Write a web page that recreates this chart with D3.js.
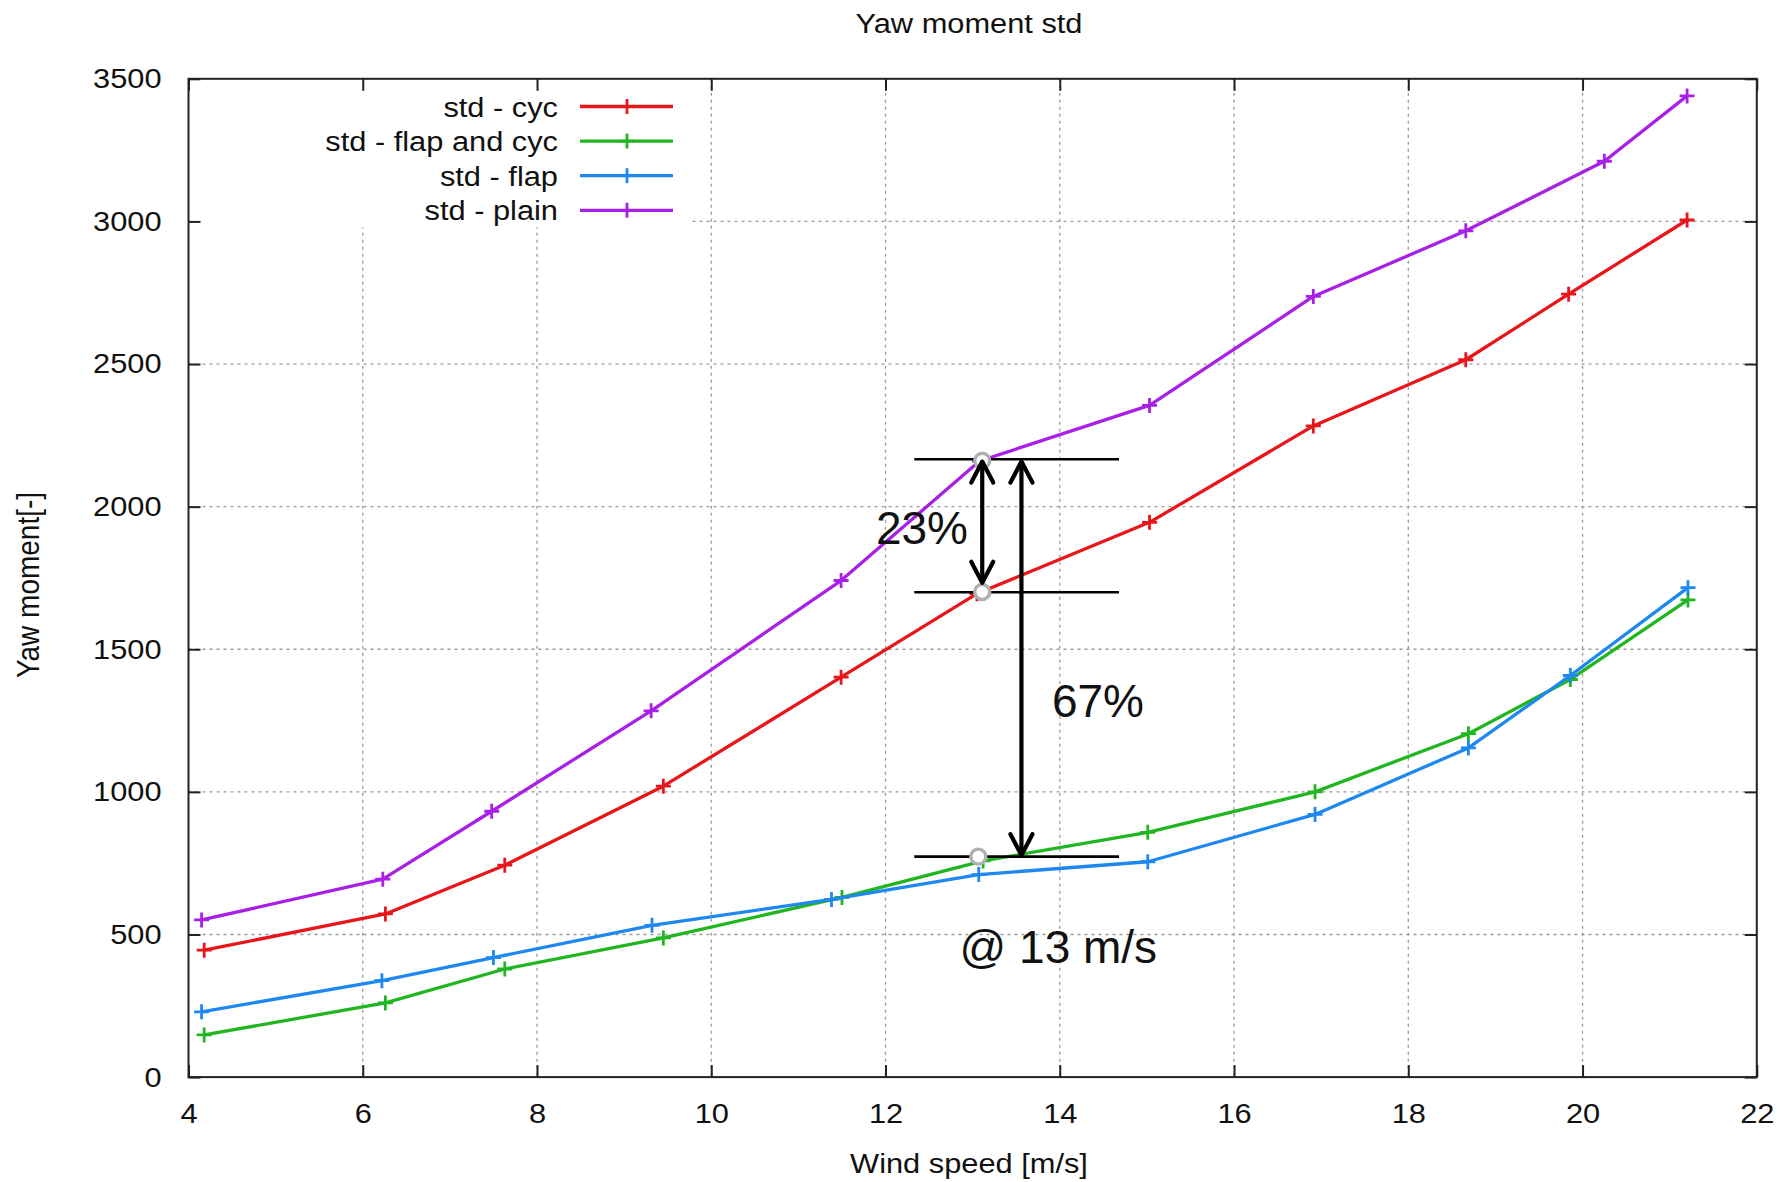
<!DOCTYPE html>
<html>
<head>
<meta charset="utf-8">
<script src="https://cdn.jsdelivr.net/npm/d3@7"></script>
<style>
  body { margin: 0; background: #fff; }
  svg { display: block; }
  text { font-family: "Liberation Sans", Arial, Helvetica, sans-serif; fill: #111; }
</style>
</head>
<body>
<svg id="chart" width="1791" height="1182"></svg>
<script>
// ---- data: yaw moment standard deviation vs wind speed ----
const seriesNames = ["std - cyc", "std - flap and cyc", "std - flap", "std - plain"];
const seriesColors = ["#e8161a", "#22b522", "#1e88f0", "#a820e8"];

const windCyc      = [4.18, 6.26, 7.63, 9.45, 11.49, 13.05, 15.03, 16.91, 18.66, 19.84, 21.20];
const momentCyc    = [445, 572, 743, 1020, 1402, 1695, 1945, 2283, 2515, 2745, 3005];

const windFlapCyc   = [4.18, 6.26, 7.63, 9.45, 11.50, 13.12, 15.01, 16.93, 18.69, 19.86, 21.21];
const momentFlapCyc = [148, 260, 379, 488, 630, 758, 858, 1000, 1204, 1394, 1673];

const windFlap   = [4.15, 6.22, 7.50, 9.32, 11.38, 13.07, 15.01, 16.93, 18.69, 19.86, 21.21];
const momentFlap = [229, 338, 419, 532, 623, 710, 755, 921, 1154, 1408, 1716];

const windPlain   = [4.15, 6.23, 7.48, 9.31, 11.49, 13.08, 15.03, 16.91, 18.66, 20.25, 21.20];
const momentPlain = [551, 694, 932, 1284, 1741, 2160, 2355, 2737, 2967, 3211, 3440];

const xTicks = [4, 6, 8, 10, 12, 14, 16, 18, 20, 22];
const yTicks = [0, 500, 1000, 1500, 2000, 2500, 3000, 3500];

// reduction annotation at 13 m/s
const gapLevels = [2166, 1700, 773];            // horizontal reference levels
const gapSpan = [12.33, 14.68];                 // wind-speed extent of reference lines
const gapArrows = [[13.11, 2158, 1733], [13.56, 2158, 778]];   // [wind, from, to]
const gapPoints = [[13.11, 2161], [13.11, 1701], [13.065, 773]];
const gapTexts = ["23%", "67%", "@ 13 m/s"];
const gapTextPos = [[11.89, 1869], [13.91, 1263], [12.85, 400]];

// ---- layout ----
const svg = d3.select("#chart");
const plot = { left: 188.5, right: 1756.8, top: 78.8, bottom: 1077.1 };
const x = d3.scaleLinear().domain([4, 22]).range([plot.left, plot.right]);
const y = d3.scaleLinear().domain([0, 3500]).range([plot.bottom, plot.top]);
const stretch = "scale(1.1,1)";

// dotted grid
const grid = svg.append("g").attr("stroke", "#9a9a9a").attr("stroke-width", 1.3)
  .attr("stroke-dasharray", "3,4");
grid.selectAll("line.v").data(xTicks.slice(1, -1)).join("line").attr("class", "v")
  .attr("x1", d => x(d)).attr("x2", d => x(d)).attr("y1", plot.top).attr("y2", plot.bottom);
grid.selectAll("line.h").data(yTicks.slice(1, -1)).join("line").attr("class", "h")
  .attr("x1", plot.left).attr("x2", plot.right).attr("y1", d => y(d)).attr("y2", d => y(d));

// opaque key background
svg.append("rect").attr("x", plot.left + 2).attr("y", plot.top + 1.5)
  .attr("width", 690 - plot.left - 2).attr("height", 147)
  .attr("fill", "#fff");

// axes with inward ticks on all four sides
function styleAxis(g) {
  g.selectAll(".domain").remove();
  g.selectAll(".tick line").attr("stroke", "#222").attr("stroke-width", 2);
  g.selectAll(".tick text").attr("font-size", 28).attr("fill", "#111")
    .attr("font-family", "Liberation Sans, Arial, sans-serif");
}
const gx = svg.append("g").attr("transform", `translate(0,${plot.bottom})`)
  .call(d3.axisBottom(x).tickValues(xTicks).tickFormat(d3.format("d"))
    .tickSizeInner(-12).tickSizeOuter(0).tickPadding(26))
  .call(styleAxis);
gx.selectAll(".tick text").attr("transform", stretch);
const gy = svg.append("g").attr("transform", `translate(${plot.left},0)`)
  .call(d3.axisLeft(y).tickValues(yTicks).tickFormat(d3.format("d"))
    .tickSizeInner(-12).tickSizeOuter(0).tickPadding(24.5))
  .call(styleAxis);
gy.selectAll(".tick text").attr("transform", stretch);
svg.append("g").attr("transform", `translate(0,${plot.top})`)
  .call(d3.axisTop(x).tickValues(xTicks).tickSizeInner(-12).tickSizeOuter(0).tickFormat(""))
  .call(styleAxis);
svg.append("g").attr("transform", `translate(${plot.right},0)`)
  .call(d3.axisRight(y).tickValues(yTicks).tickSizeInner(-12).tickSizeOuter(0).tickFormat(""))
  .call(styleAxis);

svg.append("rect").attr("x", plot.left).attr("y", plot.top)
  .attr("width", plot.right - plot.left).attr("height", plot.bottom - plot.top)
  .attr("fill", "none").attr("stroke", "#222").attr("stroke-width", 2);

// series
const series = [
  { name: seriesNames[0], color: seriesColors[0], xs: windCyc, ys: momentCyc },
  { name: seriesNames[1], color: seriesColors[1], xs: windFlapCyc, ys: momentFlapCyc },
  { name: seriesNames[2], color: seriesColors[2], xs: windFlap, ys: momentFlap },
  { name: seriesNames[3], color: seriesColors[3], xs: windPlain, ys: momentPlain }
];
const line = d3.line().x(d => x(d[0])).y(d => y(d[1]));
const plus = s => `M${-s},0H${s}M0,${-s}V${s}`;

series.forEach(s => {
  const pts = s.xs.map((v, i) => [v, s.ys[i]]);
  const g = svg.append("g");
  g.append("path").datum(pts).attr("d", line).attr("fill", "none")
    .attr("stroke", s.color).attr("stroke-width", 3.3).attr("stroke-linejoin", "round");
  g.selectAll("path.m").data(pts).join("path").attr("class", "m")
    .attr("d", plus(7.5)).attr("transform", d => `translate(${x(d[0])},${y(d[1])})`)
    .attr("stroke", s.color).attr("stroke-width", 2.8).attr("fill", "none");
});

// key
const key = svg.append("g");
series.forEach((s, i) => {
  const cy = 106.5 + i * 34.6;
  key.append("text").attr("transform", `translate(558,${cy + 10}) ${stretch}`)
    .attr("text-anchor", "end").attr("font-size", 28).text(s.name);
  key.append("line").attr("x1", 580).attr("x2", 673).attr("y1", cy).attr("y2", cy)
    .attr("stroke", s.color).attr("stroke-width", 3.3);
  key.append("path").attr("d", plus(7.5)).attr("transform", `translate(627,${cy})`)
    .attr("stroke", s.color).attr("stroke-width", 2.8);
});

// title and axis labels
svg.append("text").attr("transform", `translate(969,33) ${stretch}`)
  .attr("text-anchor", "middle").attr("font-size", 28).text("Yaw moment std");
svg.append("text").attr("transform", `translate(969,1173) ${stretch}`)
  .attr("text-anchor", "middle").attr("font-size", 28).text("Wind speed [m/s]");
svg.append("text").attr("transform", "translate(39,585) rotate(-90) scale(1,1.1)")
  .attr("text-anchor", "middle").attr("font-size", 28).text("Yaw moment[-]");

// reduction annotation
const ann = svg.append("g");
ann.selectAll("line.lvl").data(gapLevels).join("line").attr("class", "lvl")
  .attr("x1", x(gapSpan[0])).attr("x2", x(gapSpan[1]))
  .attr("y1", d => y(d)).attr("y2", d => y(d))
  .attr("stroke", "#000").attr("stroke-width", 2.6);
ann.selectAll("circle").data(gapPoints).join("circle")
  .attr("cx", d => x(d[0])).attr("cy", d => y(d[1])).attr("r", 7.5)
  .attr("fill", "#fff").attr("stroke", "#b0b0b0").attr("stroke-width", 3.4);
gapArrows.forEach(a => {
  const ax = x(a[0]), y1 = y(a[1]), y2 = y(a[2]);
  ann.append("line").attr("x1", ax).attr("x2", ax).attr("y1", y1).attr("y2", y2)
    .attr("stroke", "#000").attr("stroke-width", 4.2);
  ann.append("path").attr("d", `M${ax - 11},${y1 + 21}L${ax},${y1}L${ax + 11},${y1 + 21}`)
    .attr("fill", "none").attr("stroke", "#000").attr("stroke-width", 4.2)
    .attr("stroke-linejoin", "round").attr("stroke-linecap", "round");
  ann.append("path").attr("d", `M${ax - 11},${y2 - 21}L${ax},${y2}L${ax + 11},${y2 - 21}`)
    .attr("fill", "none").attr("stroke", "#000").attr("stroke-width", 4.2)
    .attr("stroke-linejoin", "round").attr("stroke-linecap", "round");
});
ann.selectAll("text").data(gapTexts).join("text")
  .attr("x", (d, i) => x(gapTextPos[i][0])).attr("y", (d, i) => y(gapTextPos[i][1]))
  .attr("font-size", 46).attr("fill", "#000").text(d => d);
</script>
</body>
</html>
